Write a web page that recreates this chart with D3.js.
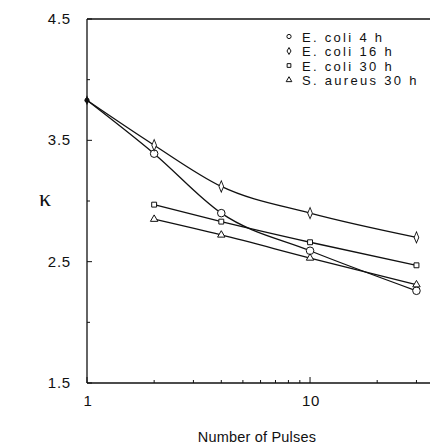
<html>
<script src='https://d3js.org/d3.v7.min.js'></script>
<style>
body {margin:0; background:#fff;}
text {font-family: "Liberation Sans", Arial, sans-serif; fill:#111;}
</style>
<body onload='init()'>
<svg width=432 height=444></svg>
<script>
var pulses = [1, 2, 4, 10, 30]
var coli4 = [3.83, 3.39, 2.90, 2.59, 2.26]
var coli16 = [3.83, 3.46, 3.12, 2.90, 2.70]
var coli30 = [null, 2.97, 2.83, 2.66, 2.47]
var aureus30 = [null, 2.85, 2.72, 2.53, 2.31]
var seriesNames = ["E. coli 4 h", "E. coli 16 h", "E. coli 30 h", "S. aureus 30 h"]
var seriesMarks = ["circle", "diamond", "square", "triangle"]
var yTicks = [1.5, 2.5, 3.5, 4.5]
var yMinor = [2, 3, 4]
var xTicks = [1, 10]
var xMinor = [2, 3, 4, 5, 6, 7, 8, 9, 20, 30]

function init() {
  var svg = d3.select("svg")
  var x = d3.scaleLog().domain([1, 34.5]).range([87, 430])
  var y = d3.scaleLinear().domain([1.5, 4.5]).range([383, 19])

  // frame: left, bottom, top
  svg.append("line").attr("x1", 87).attr("x2", 87).attr("y1", y(4.5)).attr("y2", y(1.5)).attr("stroke", "#111").attr("stroke-width", 1.3)
  svg.append("line").attr("x1", 87).attr("x2", 430).attr("y1", y(1.5)).attr("y2", y(1.5)).attr("stroke", "#111").attr("stroke-width", 1.3)
  svg.append("line").attr("x1", 87).attr("x2", 430).attr("y1", y(4.5)).attr("y2", y(4.5)).attr("stroke", "#111").attr("stroke-width", 1.3)

  svg.selectAll(".ytick").data(yTicks).enter().append("line")
    .attr("x1", 87).attr("x2", 92).attr("y1", d => y(d)).attr("y2", d => y(d)).attr("stroke", "#111")
  svg.selectAll(".ymin").data(yMinor).enter().append("line")
    .attr("x1", 87).attr("x2", 90).attr("y1", d => y(d)).attr("y2", d => y(d)).attr("stroke", "#111")
  svg.selectAll(".ylab").data(yTicks).enter().append("text")
    .attr("x", 71).attr("y", d => y(d) + 5).attr("text-anchor", "end").attr("font-size", 15)
    .attr("letter-spacing", 0.8).text(d => d.toFixed(1))

  svg.selectAll(".xtick").data(xTicks).enter().append("line")
    .attr("x1", d => x(d)).attr("x2", d => x(d)).attr("y1", y(1.5)).attr("y2", y(1.5) - 6).attr("stroke", "#111")
  svg.selectAll(".xmin").data(xMinor).enter().append("line")
    .attr("x1", d => x(d)).attr("x2", d => x(d)).attr("y1", y(1.5)).attr("y2", y(1.5) - 3).attr("stroke", "#111")
  svg.selectAll(".xlab").data(xTicks).enter().append("text")
    .attr("x", d => x(d) + 1).attr("y", 406).attr("text-anchor", "middle").attr("font-size", 15)
    .attr("letter-spacing", 0.8).text(d => d)

  svg.append("text").attr("x", 257).attr("y", 442).attr("text-anchor", "middle").attr("font-size", 14.5)
    .attr("letter-spacing", 0.2).text("Number of  Pulses")
  svg.append("text").attr("x", 45).attr("y", 206).attr("text-anchor", "middle").attr("font-size", 24)
    .style("font-family", "'Liberation Serif', serif").text("κ")

  var all = [coli4, coli16, coli30, aureus30]
  var line = d3.line().defined(d => d.v != null).x(d => x(d.p)).y(d => y(d.v)).curve(d3.curveMonotoneX)
  all.forEach(function(vals) {
    var pts = pulses.map((p, i) => ({p: p, v: vals[i]}))
    svg.append("path").datum(pts).attr("d", line).attr("fill", "none").attr("stroke", "#111").attr("stroke-width", 1.3)
  })

  var symType = {circle: d3.symbolCircle, diamond: d3.symbolDiamond, square: d3.symbolSquare, triangle: d3.symbolTriangle}
  var symSize = {circle: 45, diamond: 30, square: 24, triangle: 24}
  all.forEach(function(vals, k) {
    var m = seriesMarks[k]
    var pts = pulses.map((p, i) => ({p: p, v: vals[i]})).filter(d => d.v != null)
    svg.selectAll(".m" + k).data(pts).enter().append("path")
      .attr("transform", d => "translate(" + x(d.p) + "," + y(d.v) + ")" + (m == "diamond" ? " scale(0.8,1.1)" : ""))
      .attr("d", d3.symbol().type(symType[m]).size(d => d.p == 1 ? 14 : symSize[m]))
      .attr("fill", d => d.p == 1 ? "#111" : "#fff").attr("stroke", "#111").attr("stroke-width", 1)
  })

  // legend
  var lg = svg.append("g")
  seriesNames.forEach(function(n, i) {
    var yy = 36.5 + i * 14.5
    lg.append("path").attr("transform", "translate(289," + yy + ")")
      .attr("d", d3.symbol().type(symType[seriesMarks[i]]).size(14))
      .attr("fill", "#fff").attr("stroke", "#111").attr("stroke-width", 1)
    lg.append("text").attr("x", 302).attr("y", yy + 5).attr("font-size", 13)
      .attr("letter-spacing", 2.3).text(n)
  })
}
</script>
</body>
</html>
